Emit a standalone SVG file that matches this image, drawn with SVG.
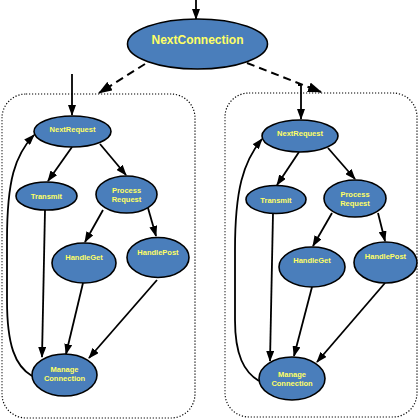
<svg xmlns="http://www.w3.org/2000/svg" width="420" height="420" viewBox="0 0 420 420">
<defs>
<marker id="ah" markerWidth="11" markerHeight="8" refX="10" refY="4" orient="auto" markerUnits="userSpaceOnUse">
<path d="M0,0 L11,4 L0,8 z" fill="#000"/>
</marker>
<marker id="ahb" markerWidth="14" markerHeight="10" refX="13" refY="5" orient="auto" markerUnits="userSpaceOnUse">
<path d="M0,0 L14,5 L0,10 z" fill="#000"/>
</marker>
</defs>
<style>
.n ellipse{fill:#4a7ebb;stroke:#000;stroke-width:1.6}
.n text{font-family:"Liberation Sans",Arial,sans-serif;font-weight:bold;font-size:7.5px;fill:#ffff66;text-anchor:middle}
#NextConnection text{font-size:12px}
.box{fill:none;stroke:#000;stroke-width:1.2;stroke-dasharray:1.2,1.8}
.e{fill:none;stroke:#000;stroke-width:1.8;marker-end:url(#ah)}
.d{fill:none;stroke:#000;stroke-width:2;stroke-dasharray:8,5;marker-end:url(#ahb)}
</style>
<g id="clusters">
<rect class="box" x="2" y="94" width="193" height="324" rx="24"/>
<rect class="box" x="225" y="93" width="192" height="324" rx="24"/>
</g>
<g id="connectors">
<line class="e" x1="196" y1="0" x2="196" y2="19"/>
<line class="d" x1="145" y1="64" x2="99" y2="93"/>
<line class="d" x1="247" y1="63" x2="321" y2="92"/>
<line class="e" x1="72" y1="74" x2="72" y2="115"/>
<path class="e" d="M298,85 L301,85 L301,119"/>
<line class="e" x1="72" y1="147" x2="48" y2="181"/>
<line class="e" x1="100" y1="144" x2="126" y2="175"/>
<line class="e" x1="103" y1="210" x2="85" y2="242"/>
<line class="e" x1="148" y1="208" x2="156" y2="236"/>
<line class="e" x1="45" y1="210" x2="42" y2="357"/>
<line class="e" x1="83" y1="283" x2="66" y2="354"/>
<line class="e" x1="157" y1="280" x2="89" y2="358"/>
<path class="e" d="M32,376 C15,366 7,345 7,300 L7,240 C7,180 15,155 34,135"/>
<line class="e" x1="299" y1="152" x2="277" y2="185"/>
<line class="e" x1="328" y1="148" x2="355" y2="179"/>
<line class="e" x1="332" y1="213" x2="313" y2="246"/>
<line class="e" x1="378" y1="213" x2="385" y2="241"/>
<line class="e" x1="273" y1="213" x2="270" y2="361"/>
<line class="e" x1="312" y1="287" x2="294" y2="356"/>
<line class="e" x1="385" y1="283" x2="317" y2="362"/>
<path class="e" d="M259,381 C244,372 235,355 235,320 L235,250 C235,190 243,162 262,139"/>
</g>
<g id="NextConnection" class="n"><ellipse cx="197.5" cy="44" rx="70" ry="25"/><text x="197.5" y="44">NextConnection</text></g>
<g id="NextRequest1" class="n"><ellipse cx="72.5" cy="131.5" rx="38.5" ry="15.5"/><text x="72.5" y="132">NextRequest</text></g>
<g id="Transmit1" class="n"><ellipse cx="46.5" cy="196" rx="30.5" ry="14"/><text x="46.5" y="199">Transmit</text></g>
<g id="ProcessRequest1" class="n"><ellipse cx="126.5" cy="194.5" rx="30.5" ry="18.5"/><text x="126.5" y="193">Process</text><text x="126.5" y="201.5">Request</text></g>
<g id="HandleGet1" class="n"><ellipse cx="84" cy="263" rx="32" ry="20"/><text x="84" y="260">HandleGet</text></g>
<g id="HandlePost1" class="n"><ellipse cx="158" cy="257.5" rx="31" ry="20"/><text x="158" y="255">HandlePost</text></g>
<g id="ManageConnection1" class="n"><ellipse cx="64.5" cy="375" rx="32.5" ry="21"/><text x="64.5" y="372">Manage</text><text x="64.5" y="381">Connection</text></g>
<g id="NextRequest2" class="n"><ellipse cx="300" cy="136" rx="38" ry="16"/><text x="300" y="136">NextRequest</text></g>
<g id="Transmit2" class="n"><ellipse cx="276" cy="199.5" rx="30" ry="14"/><text x="276" y="203">Transmit</text></g>
<g id="ProcessRequest2" class="n"><ellipse cx="355" cy="198.5" rx="31" ry="18.5"/><text x="355" y="197">Process</text><text x="355" y="206">Request</text></g>
<g id="HandleGet2" class="n"><ellipse cx="312" cy="267" rx="33" ry="20"/><text x="312" y="263">HandleGet</text></g>
<g id="HandlePost2" class="n"><ellipse cx="385.5" cy="262.5" rx="31.5" ry="20.5"/><text x="385.5" y="259">HandlePost</text></g>
<g id="ManageConnection2" class="n"><ellipse cx="292" cy="378.5" rx="33" ry="21.5"/><text x="292" y="377">Manage</text><text x="292" y="386">Connection</text></g>
</svg>
